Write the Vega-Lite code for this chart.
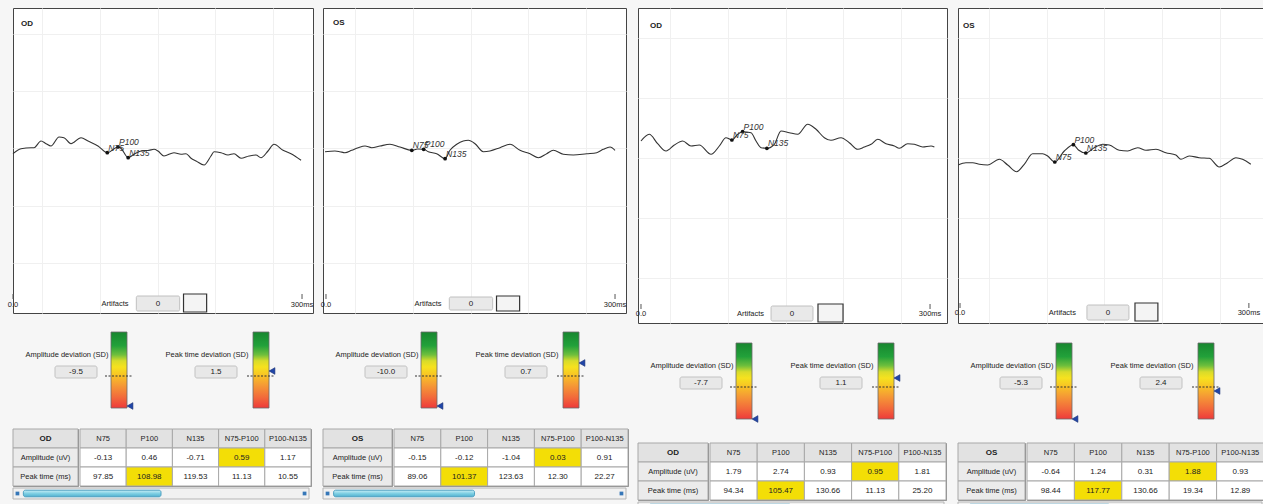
{
"$schema":"https://vega.github.io/schema/vega-lite/v6.json",
"background":"#f6f6f6",
"padding":{"left":7,"top":7,"right":0,"bottom":0},
"autosize":{"type":"pad"},
"spacing":6,
"config":{
 "view":{"stroke":null},
 "locale":{"number":{"decimal":".","thousands":",","grouping":[3],"currency":["",""],"minus":"-"}},
 "text":{"font":"Liberation Sans","fontSize":7.5,"color":"#222"}
},
"datasets":{
 "wave":[
  {"panel":1,"t":0,"v":-0.27},{"panel":1,"t":8.3,"v":0.23},{"panel":1,"t":18.7,"v":0.33},{"panel":1,"t":21.8,"v":0.33},{"panel":1,"t":29.1,"v":1.0},{"panel":1,"t":34.3,"v":0.73},{"panel":1,"t":39.4,"v":0.5},{"panel":1,"t":47.8,"v":1.4},{"panel":1,"t":52.9,"v":1.33},{"panel":1,"t":60.2,"v":0.73},{"panel":1,"t":70.6,"v":1.33},{"panel":1,"t":77.9,"v":1.0},{"panel":1,"t":88.2,"v":0.5},{"panel":1,"t":97.85,"v":-0.17},{"panel":1,"t":108.98,"v":0.4},{"panel":1,"t":112,"v":0.27},{"panel":1,"t":119.53,"v":-0.67},{"panel":1,"t":125.6,"v":-0.33},{"panel":1,"t":132.9,"v":0},{"panel":1,"t":141.2,"v":0.07},{"panel":1,"t":146.4,"v":0.17},{"panel":1,"t":150.5,"v":0},{"panel":1,"t":156.7,"v":-0.5},{"panel":1,"t":167.1,"v":-0.17},{"panel":1,"t":174.4,"v":-0.33},{"panel":1,"t":179.6,"v":-0.27},{"panel":1,"t":184.8,"v":-0.73},{"panel":1,"t":190,"v":-1.0},{"panel":1,"t":198.3,"v":-1.4},{"panel":1,"t":205.5,"v":-0.5},{"panel":1,"t":208.7,"v":-0.07},{"panel":1,"t":215.9,"v":-0.17},{"panel":1,"t":223.2,"v":-0.4},{"panel":1,"t":229.4,"v":-0.27},{"panel":1,"t":236.7,"v":-0.73},{"panel":1,"t":245,"v":-0.5},{"panel":1,"t":252.2,"v":-0.4},{"panel":1,"t":257.4,"v":-0.67},{"panel":1,"t":264.7,"v":0},{"panel":1,"t":270.9,"v":0.67},{"panel":1,"t":280.3,"v":0.07},{"panel":1,"t":288.6,"v":-0.27},{"panel":1,"t":299,"v":-0.93},
  {"panel":2,"t":-1,"v":-0.07},{"panel":2,"t":9.3,"v":0},{"panel":2,"t":14.5,"v":-0.07},{"panel":2,"t":19.7,"v":-0.17},{"panel":2,"t":26.7,"v":0.07},{"panel":2,"t":33.5,"v":0.33},{"panel":2,"t":40.5,"v":0.5},{"panel":2,"t":47.4,"v":0.33},{"panel":2,"t":56.1,"v":0.5},{"panel":2,"t":66.4,"v":0.67},{"panel":2,"t":76.8,"v":0.4},{"panel":2,"t":89.06,"v":0.07},{"panel":2,"t":95,"v":0.2},{"panel":2,"t":101.37,"v":0.17},{"panel":2,"t":106.2,"v":-0.07},{"panel":2,"t":114.9,"v":-0.27},{"panel":2,"t":123.63,"v":-0.77},{"panel":2,"t":128.7,"v":0.07},{"panel":2,"t":135.7,"v":0.67},{"panel":2,"t":142.5,"v":1.0},{"panel":2,"t":147.7,"v":1.07},{"panel":2,"t":154.7,"v":0.73},{"panel":2,"t":163.3,"v":-0.07},{"panel":2,"t":170.2,"v":0},{"panel":2,"t":180.6,"v":0.33},{"panel":2,"t":191,"v":0.67},{"panel":2,"t":201.4,"v":0.07},{"panel":2,"t":211.8,"v":-0.27},{"panel":2,"t":220.4,"v":-0.67},{"panel":2,"t":229.1,"v":-0.27},{"panel":2,"t":236,"v":0.07},{"panel":2,"t":246.3,"v":-0.33},{"panel":2,"t":256.7,"v":-0.4},{"panel":2,"t":270.6,"v":-0.27},{"panel":2,"t":281,"v":-0.17},{"panel":2,"t":287.8,"v":0.17},{"panel":2,"t":294.8,"v":0.4},{"panel":2,"t":300,"v":0.07},
  {"panel":3,"t":0,"v":1.5},{"panel":3,"t":8.6,"v":2.17},{"panel":3,"t":17.3,"v":1.23},{"panel":3,"t":26,"v":0.5},{"panel":3,"t":34.6,"v":1.1},{"panel":3,"t":43.3,"v":1.5},{"panel":3,"t":51.9,"v":1.0},{"panel":3,"t":60.5,"v":1.1},{"panel":3,"t":72.7,"v":0.17},{"panel":3,"t":81.3,"v":1.0},{"panel":3,"t":88.2,"v":1.83},{"panel":3,"t":94.34,"v":1.6},{"panel":3,"t":100.4,"v":2.17},{"panel":3,"t":105.47,"v":2.43},{"panel":3,"t":114.2,"v":2.33},{"panel":3,"t":119.4,"v":1.5},{"panel":3,"t":124.6,"v":0.83},{"panel":3,"t":130.66,"v":0.77},{"panel":3,"t":138.4,"v":1.17},{"panel":3,"t":145.3,"v":2.5},{"panel":3,"t":153.9,"v":2.33},{"panel":3,"t":162.7,"v":2.17},{"panel":3,"t":173,"v":3.17},{"panel":3,"t":181.7,"v":2.67},{"panel":3,"t":190.3,"v":1.83},{"panel":3,"t":197.2,"v":1.57},{"panel":3,"t":207.6,"v":1.83},{"panel":3,"t":216.2,"v":1.33},{"panel":3,"t":225,"v":0.67},{"panel":3,"t":231.8,"v":0.9},{"panel":3,"t":238.8,"v":1.17},{"panel":3,"t":245.7,"v":1.67},{"panel":3,"t":254.3,"v":1.23},{"panel":3,"t":263,"v":1.0},{"panel":3,"t":268.1,"v":0.77},{"panel":3,"t":276.8,"v":1.23},{"panel":3,"t":283.7,"v":1.17},{"panel":3,"t":292.4,"v":0.9},{"panel":3,"t":301,"v":1.0},{"panel":3,"t":304.5,"v":0.9},
  {"panel":4,"t":-2,"v":-0.9},{"panel":4,"t":6.2,"v":-0.67},{"panel":4,"t":13.2,"v":-0.67},{"panel":4,"t":20.1,"v":-0.83},{"panel":4,"t":28.7,"v":-0.9},{"panel":4,"t":40.8,"v":-0.33},{"panel":4,"t":49.5,"v":-0.9},{"panel":4,"t":58.8,"v":-1.57},{"panel":4,"t":66.7,"v":-0.83},{"panel":4,"t":75.4,"v":0.23},{"panel":4,"t":85.8,"v":0.23},{"panel":4,"t":91,"v":0},{"panel":4,"t":98.44,"v":-0.6},{"panel":4,"t":108.3,"v":0.5},{"panel":4,"t":117.77,"v":1.13},{"panel":4,"t":123,"v":0.6},{"panel":4,"t":130.66,"v":0.3},{"panel":4,"t":139.4,"v":0.83},{"panel":4,"t":148.1,"v":1.17},{"panel":4,"t":155,"v":1.1},{"panel":4,"t":165.4,"v":0.57},{"panel":4,"t":174.1,"v":0.5},{"panel":4,"t":184.5,"v":0.83},{"panel":4,"t":193.1,"v":0.57},{"panel":4,"t":203.5,"v":0.67},{"panel":4,"t":213.8,"v":0.33},{"panel":4,"t":224.2,"v":0.1},{"panel":4,"t":229.4,"v":-0.33},{"panel":4,"t":238,"v":0},{"panel":4,"t":248.4,"v":-0.17},{"panel":4,"t":258.8,"v":-0.23},{"panel":4,"t":269.2,"v":-1.1},{"panel":4,"t":277.9,"v":-0.67},{"panel":4,"t":286.5,"v":-0.17},{"panel":4,"t":293.4,"v":-0.33},{"panel":4,"t":302,"v":-0.83}
 ],
 "peaks":[
  {"panel":1,"peak":"N75","t":97.85,"v":-0.17},{"panel":1,"peak":"P100","t":108.98,"v":0.4},{"panel":1,"peak":"N135","t":119.53,"v":-0.67},
  {"panel":2,"peak":"N75","t":89.06,"v":0.07},{"panel":2,"peak":"P100","t":101.37,"v":0.17},{"panel":2,"peak":"N135","t":123.63,"v":-0.77},
  {"panel":3,"peak":"N75","t":94.34,"v":1.6},{"panel":3,"peak":"P100","t":105.47,"v":2.43},{"panel":3,"peak":"N135","t":130.66,"v":0.77},
  {"panel":4,"peak":"N75","t":98.44,"v":-0.6},{"panel":4,"peak":"P100","t":117.77,"v":1.13},{"panel":4,"peak":"N135","t":130.66,"v":0.3}
 ],
 "gauge":[
  {"panel":1,"kind":"amp","label":"Amplitude deviation (SD)","value":-9.5},{"panel":1,"kind":"peak","label":"Peak time deviation (SD)","value":1.5},
  {"panel":2,"kind":"amp","label":"Amplitude deviation (SD)","value":-10.0},{"panel":2,"kind":"peak","label":"Peak time deviation (SD)","value":0.7},
  {"panel":3,"kind":"amp","label":"Amplitude deviation (SD)","value":-7.7},{"panel":3,"kind":"peak","label":"Peak time deviation (SD)","value":1.1},
  {"panel":4,"kind":"amp","label":"Amplitude deviation (SD)","value":-5.3},{"panel":4,"kind":"peak","label":"Peak time deviation (SD)","value":2.4}
 ],
 "hdr":[{"row":"hdr","col":"N75"},{"row":"hdr","col":"P100"},{"row":"hdr","col":"N135"},{"row":"hdr","col":"N75-P100"},{"row":"hdr","col":"P100-N135"}],
 "table":[
  {"panel":1,"row":"Amplitude (uV)","col":"N75","value":-0.13,"flag":false},{"panel":1,"row":"Amplitude (uV)","col":"P100","value":0.46,"flag":false},{"panel":1,"row":"Amplitude (uV)","col":"N135","value":-0.71,"flag":false},{"panel":1,"row":"Amplitude (uV)","col":"N75-P100","value":0.59,"flag":true},{"panel":1,"row":"Amplitude (uV)","col":"P100-N135","value":1.17,"flag":false},
  {"panel":1,"row":"Peak time (ms)","col":"N75","value":97.85,"flag":false},{"panel":1,"row":"Peak time (ms)","col":"P100","value":108.98,"flag":true},{"panel":1,"row":"Peak time (ms)","col":"N135","value":119.53,"flag":false},{"panel":1,"row":"Peak time (ms)","col":"N75-P100","value":11.13,"flag":false},{"panel":1,"row":"Peak time (ms)","col":"P100-N135","value":10.55,"flag":false},
  {"panel":2,"row":"Amplitude (uV)","col":"N75","value":-0.15,"flag":false},{"panel":2,"row":"Amplitude (uV)","col":"P100","value":-0.12,"flag":false},{"panel":2,"row":"Amplitude (uV)","col":"N135","value":-1.04,"flag":false},{"panel":2,"row":"Amplitude (uV)","col":"N75-P100","value":0.03,"flag":true},{"panel":2,"row":"Amplitude (uV)","col":"P100-N135","value":0.91,"flag":false},
  {"panel":2,"row":"Peak time (ms)","col":"N75","value":89.06,"flag":false},{"panel":2,"row":"Peak time (ms)","col":"P100","value":101.37,"flag":true},{"panel":2,"row":"Peak time (ms)","col":"N135","value":123.63,"flag":false},{"panel":2,"row":"Peak time (ms)","col":"N75-P100","value":12.30,"flag":false},{"panel":2,"row":"Peak time (ms)","col":"P100-N135","value":22.27,"flag":false},
  {"panel":3,"row":"Amplitude (uV)","col":"N75","value":1.79,"flag":false},{"panel":3,"row":"Amplitude (uV)","col":"P100","value":2.74,"flag":false},{"panel":3,"row":"Amplitude (uV)","col":"N135","value":0.93,"flag":false},{"panel":3,"row":"Amplitude (uV)","col":"N75-P100","value":0.95,"flag":true},{"panel":3,"row":"Amplitude (uV)","col":"P100-N135","value":1.81,"flag":false},
  {"panel":3,"row":"Peak time (ms)","col":"N75","value":94.34,"flag":false},{"panel":3,"row":"Peak time (ms)","col":"P100","value":105.47,"flag":true},{"panel":3,"row":"Peak time (ms)","col":"N135","value":130.66,"flag":false},{"panel":3,"row":"Peak time (ms)","col":"N75-P100","value":11.13,"flag":false},{"panel":3,"row":"Peak time (ms)","col":"P100-N135","value":25.20,"flag":false},
  {"panel":4,"row":"Amplitude (uV)","col":"N75","value":-0.64,"flag":false},{"panel":4,"row":"Amplitude (uV)","col":"P100","value":1.24,"flag":false},{"panel":4,"row":"Amplitude (uV)","col":"N135","value":0.31,"flag":false},{"panel":4,"row":"Amplitude (uV)","col":"N75-P100","value":1.88,"flag":true},{"panel":4,"row":"Amplitude (uV)","col":"P100-N135","value":0.93,"flag":false},
  {"panel":4,"row":"Peak time (ms)","col":"N75","value":98.44,"flag":false},{"panel":4,"row":"Peak time (ms)","col":"P100","value":117.77,"flag":true},{"panel":4,"row":"Peak time (ms)","col":"N135","value":130.66,"flag":false},{"panel":4,"row":"Peak time (ms)","col":"N75-P100","value":19.34,"flag":false},{"panel":4,"row":"Peak time (ms)","col":"P100-N135","value":12.89,"flag":false}
 ]
},
"hconcat":[
 {"spacing":17,"vconcat":[
  {"width":300,"height":305,"view":{"stroke":"#444","fill":"white"},"layer":[
   {"data":{"name":"wave"},"transform":[{"filter":"datum.panel == 1"}],"mark":{"type":"line","color":"#333","strokeWidth":1.1,"interpolate":"monotone"},
    "encoding":{"x":{"field":"t","type":"quantitative","scale":{"domain":[0,311.4],"nice":false,"zero":false},"axis":{"values":[30,60,90,120,150,180,210,240,270,300],"grid":true,"gridColor":"#f0f0f0","labels":false,"ticks":false,"domain":false,"title":null}},
     "y":{"field":"v","type":"quantitative","scale":{"domain":[-16.2,14.3],"nice":false,"zero":false},"axis":{"values":[11.7,8.8,6,3.2,0.3,-2.6,-5.5,-8.3,-11.2],"grid":true,"gridColor":"#f0f0f0","labels":false,"ticks":false,"domain":false,"title":null}}}},
   {"data":{"name":"peaks"},"transform":[{"filter":"datum.panel == 1"}],"mark":{"type":"point","filled":true,"color":"#111","size":14,"opacity":1},"encoding":{"x":{"field":"t","type":"quantitative"},"y":{"field":"v","type":"quantitative"}}},
   {"data":{"name":"peaks"},"transform":[{"filter":"datum.panel == 1"}],"mark":{"type":"text","align":"left","baseline":"alphabetic","dx":1,"dy":-2,"fontStyle":"italic","fontSize":8.5,"color":"#333"},"encoding":{"x":{"field":"t","type":"quantitative"},"y":{"field":"v","type":"quantitative"},"text":{"field":"peak"}}},
   {"data":{"values":[{"eye":"OD"}]},"mark":{"type":"text","align":"left","fontWeight":"bold","fontSize":8},"encoding":{"x":{"datum":8.3},"y":{"datum":12.7},"text":{"field":"eye"}}},
   {"data":{"values":[{"lab":"0.0","t":0},{"lab":"300ms","t":300}]},"layer":[
    {"mark":{"type":"text"},"encoding":{"x":{"field":"t","type":"quantitative"},"y":{"datum":-15.4},"text":{"field":"lab"}}},
    {"mark":{"type":"rule","color":"#555"},"encoding":{"x":{"field":"t","type":"quantitative"},"y":{"datum":-14.3},"y2":{"datum":-14.8}}}
   ]},
   {"data":{"values":[{"lab":"Artifacts","count":0}]},"layer":[
    {"mark":{"type":"text","align":"right"},"encoding":{"x":{"datum":120},"y":{"datum":-15.3},"text":{"field":"lab"}}},
    {"mark":{"type":"rect","fill":"#e9e9e9","stroke":"#c0c0c0","cornerRadius":1.5},"encoding":{"x":{"datum":128},"x2":{"datum":173},"y":{"datum":-14.5},"y2":{"datum":-16.0}}},
    {"mark":{"type":"text","fontSize":8},"encoding":{"x":{"datum":150.5},"y":{"datum":-15.3},"text":{"field":"count"}}},
    {"mark":{"type":"rect","fill":"#f4f4f4","stroke":"#333","strokeWidth":1.2},"encoding":{"x":{"datum":177},"x2":{"datum":201},"y":{"datum":-14.3},"y2":{"datum":-16.1}}}
   ]}
  ]},
  {"width":280,"height":76,"data":{"name":"gauge"},"transform":[{"filter":"datum.panel == 1"}],"resolve":{"scale":{"y":"independent"}},"layer":[
   {"layer":[
    {"transform":[{"filter":"datum.kind == 'amp'"}],"mark":{"type":"rect","stroke":"#6b6b6b","strokeWidth":0.8,"fill":{"gradient":"linear","x1":0,"y1":0,"x2":0,"y2":1,"stops":[{"offset":0,"color":"#17862f"},{"offset":0.18,"color":"#22a13a"},{"offset":0.3,"color":"#6fbf3c"},{"offset":0.38,"color":"#d8dc2a"},{"offset":0.46,"color":"#f6e21f"},{"offset":0.56,"color":"#f8c624"},{"offset":0.7,"color":"#f59a35"},{"offset":0.86,"color":"#f26a3b"},{"offset":1,"color":"#ee3a3a"}]}},
     "encoding":{"x":{"datum":98,"type":"quantitative","scale":{"domain":[0,280],"nice":false,"zero":false},"axis":null},"x2":{"datum":114},"y":{"datum":2.4,"type":"quantitative","scale":{"domain":[-5.2,2.4],"nice":false,"zero":false,"clamp":true},"axis":null},"y2":{"datum":-5.2}}},
    {"transform":[{"filter":"datum.kind == 'peak'"}],"mark":{"type":"rect","stroke":"#6b6b6b","strokeWidth":0.8,"fill":{"gradient":"linear","x1":0,"y1":0,"x2":0,"y2":1,"stops":[{"offset":0,"color":"#17862f"},{"offset":0.18,"color":"#22a13a"},{"offset":0.3,"color":"#6fbf3c"},{"offset":0.38,"color":"#d8dc2a"},{"offset":0.46,"color":"#f6e21f"},{"offset":0.56,"color":"#f8c624"},{"offset":0.7,"color":"#f59a35"},{"offset":0.86,"color":"#f26a3b"},{"offset":1,"color":"#ee3a3a"}]}},
     "encoding":{"x":{"datum":240,"type":"quantitative","axis":null},"x2":{"datum":256},"y":{"datum":2.4,"type":"quantitative","axis":null},"y2":{"datum":-5.2}}},
    {"transform":[{"filter":"datum.kind == 'amp'"}],"mark":{"type":"rule","color":"#333","strokeDash":[2,1.5]},"encoding":{"x":{"datum":92,"type":"quantitative","axis":null},"x2":{"datum":120},"y":{"datum":-2,"type":"quantitative","axis":null}}},
    {"transform":[{"filter":"datum.kind == 'peak'"}],"mark":{"type":"rule","color":"#333","strokeDash":[2,1.5]},"encoding":{"x":{"datum":234,"type":"quantitative","axis":null},"x2":{"datum":262},"y":{"datum":-2,"type":"quantitative","axis":null}}},
    {"transform":[{"filter":"datum.kind == 'amp'"}],"mark":{"type":"text"},"encoding":{"x":{"datum":54,"type":"quantitative","axis":null},"y":{"datum":0.15,"type":"quantitative","axis":null},"text":{"field":"label"}}},
    {"transform":[{"filter":"datum.kind == 'peak'"}],"mark":{"type":"text"},"encoding":{"x":{"datum":194,"type":"quantitative","axis":null},"y":{"datum":0.15,"type":"quantitative","axis":null},"text":{"field":"label"}}},
    {"transform":[{"filter":"datum.kind == 'amp'"}],"mark":{"type":"rect","fill":"#e8e8e8","stroke":"#c2c2c2","cornerRadius":2},"encoding":{"x":{"datum":42,"type":"quantitative","axis":null},"x2":{"datum":84},"y":{"datum":-1.0,"type":"quantitative","axis":null},"y2":{"datum":-2.2}}},
    {"transform":[{"filter":"datum.kind == 'peak'"}],"mark":{"type":"rect","fill":"#e8e8e8","stroke":"#c2c2c2","cornerRadius":2},"encoding":{"x":{"datum":182,"type":"quantitative","axis":null},"x2":{"datum":224},"y":{"datum":-1.0,"type":"quantitative","axis":null},"y2":{"datum":-2.2}}},
    {"transform":[{"filter":"datum.kind == 'amp'"}],"mark":{"type":"text","fontSize":8},"encoding":{"x":{"datum":63,"type":"quantitative","axis":null},"y":{"datum":-1.6,"type":"quantitative","axis":null},"text":{"field":"value","type":"quantitative","format":".1f"}}},
    {"transform":[{"filter":"datum.kind == 'peak'"}],"mark":{"type":"text","fontSize":8},"encoding":{"x":{"datum":203,"type":"quantitative","axis":null},"y":{"datum":-1.6,"type":"quantitative","axis":null},"text":{"field":"value","type":"quantitative","format":".1f"}}}
   ]},
   {"transform":[{"filter":"datum.kind == 'peak'"}],"mark":{"type":"point","shape":"triangle-left","filled":true,"color":"#1f45a8","size":45,"opacity":1,"stroke":"#10286e","strokeWidth":0.6},"encoding":{"x":{"datum":259,"type":"quantitative","axis":null},"y":{"field":"value","type":"quantitative","scale":{"domain":[-2.4,5.2],"reverse":true,"nice":false,"zero":false,"clamp":true},"axis":null}}},
   {"transform":[{"filter":"datum.kind == 'amp'"}],"mark":{"type":"point","shape":"triangle-left","filled":true,"color":"#1f45a8","size":45,"opacity":1,"stroke":"#10286e","strokeWidth":0.6},"encoding":{"x":{"datum":117,"type":"quantitative","axis":null},"y":{"field":"value","type":"quantitative","scale":{"domain":[-5.0,2.4],"range":[74,0],"nice":false,"zero":false,"clamp":true},"axis":null}}}
  ]},
  {"spacing":0,"vconcat":[
   {"spacing":0,"hconcat":[
    {"width":65,"height":57,"view":{"stroke":"#888"},"data":{"values":[{"row":"hdr","label":"OD"},{"row":"Amplitude (uV)","label":"Amplitude (uV)"},{"row":"Peak time (ms)","label":"Peak time (ms)"}]},"layer":[
     {"mark":{"type":"rect","stroke":"#a8a8a8"},"encoding":{"y":{"field":"row","type":"nominal","scale":{"domain":["hdr","Amplitude (uV)","Peak time (ms)"]},"axis":null},"fill":{"condition":{"test":"datum.row == 'hdr'","value":"#e2e2e2"},"value":"#ebebeb"}}},
     {"transform":[{"filter":"datum.row == 'hdr'"}],"mark":{"type":"text","fontWeight":"bold","fontSize":8},"encoding":{"y":{"field":"row","type":"nominal","axis":null},"text":{"field":"label"}}},
     {"transform":[{"filter":"datum.row != 'hdr'"}],"mark":{"type":"text"},"encoding":{"y":{"field":"row","type":"nominal","axis":null},"text":{"field":"label"}}}
    ]},
    {"width":231,"height":57,"view":{"stroke":"#888"},"layer":[
     {"data":{"name":"hdr"},"mark":{"type":"rect","fill":"#e2e2e2","stroke":"#a8a8a8"},"encoding":{"x":{"field":"col","type":"nominal","scale":{"domain":["N75","P100","N135","N75-P100","P100-N135"]},"axis":null},"y":{"field":"row","type":"nominal","scale":{"domain":["hdr","Amplitude (uV)","Peak time (ms)"]},"axis":null}}},
     {"data":{"name":"hdr"},"mark":{"type":"text"},"encoding":{"x":{"field":"col","type":"nominal","axis":null},"y":{"field":"row","type":"nominal","axis":null},"text":{"field":"col"}}},
     {"data":{"name":"table"},"transform":[{"filter":"datum.panel == 1"}],"mark":{"type":"rect","stroke":"#a8a8a8"},"encoding":{"x":{"field":"col","type":"nominal","axis":null},"y":{"field":"row","type":"nominal","axis":null},"fill":{"condition":{"test":"datum.flag","value":"#f3de06"},"value":"#ffffff"}}},
     {"data":{"name":"table"},"transform":[{"filter":"datum.panel == 1"}],"mark":{"type":"text","fontSize":8},"encoding":{"x":{"field":"col","type":"nominal","axis":null},"y":{"field":"row","type":"nominal","axis":null},"text":{"field":"value","type":"quantitative","format":".2f"}}}
    ]}
   ]},
   {"width":296,"height":11,"data":{"values":[{}]},"layer":[
    {"mark":{"type":"rect","fill":"#f1f1f1","stroke":"#b5b5b5"},"encoding":{"x":{"datum":0,"type":"quantitative","scale":{"domain":[0,1],"nice":false,"zero":false},"axis":null},"x2":{"datum":1},"y":{"datum":0,"type":"quantitative","scale":{"domain":[0,1],"nice":false,"zero":false},"axis":null},"y2":{"datum":1}}},
    {"mark":{"type":"rect","stroke":"#4a9fc0","cornerRadius":2,"fill":{"gradient":"linear","x1":0,"y1":0,"x2":0,"y2":1,"stops":[{"offset":0,"color":"#c8eef7"},{"offset":0.5,"color":"#7fcfe3"},{"offset":1,"color":"#4fb0cf"}]}},"encoding":{"x":{"datum":0.035,"type":"quantitative","axis":null},"x2":{"datum":0.5},"y":{"datum":0.2,"type":"quantitative","axis":null},"y2":{"datum":0.8}}},
    {"mark":{"type":"point","shape":"square","filled":true,"color":"#3677b8","size":14,"opacity":1},"encoding":{"x":{"datum":0.015,"type":"quantitative","axis":null},"y":{"datum":0.5,"type":"quantitative","axis":null}}},
    {"mark":{"type":"point","shape":"square","filled":true,"color":"#3677b8","size":14,"opacity":1},"encoding":{"x":{"datum":0.985,"type":"quantitative","axis":null},"y":{"datum":0.5,"type":"quantitative","axis":null}}}
   ]}
  ]}
 ]},
 {"spacing":17,"vconcat":[
  {"width":303,"height":305,"view":{"stroke":"#444","fill":"white"},"layer":[
   {"data":{"name":"wave"},"transform":[{"filter":"datum.panel == 2"}],"mark":{"type":"line","color":"#333","strokeWidth":1.1,"interpolate":"monotone"},
    "encoding":{"x":{"field":"t","type":"quantitative","scale":{"domain":[-3.1,311.4],"nice":false,"zero":false},"axis":{"values":[30,60,90,120,150,180,210,240,270,300],"grid":true,"gridColor":"#f0f0f0","labels":false,"ticks":false,"domain":false,"title":null}},
     "y":{"field":"v","type":"quantitative","scale":{"domain":[-16.2,14.3],"nice":false,"zero":false},"axis":{"values":[11.7,8.8,6,3.2,0.3,-2.6,-5.5,-8.3,-11.2],"grid":true,"gridColor":"#f0f0f0","labels":false,"ticks":false,"domain":false,"title":null}}}},
   {"data":{"name":"peaks"},"transform":[{"filter":"datum.panel == 2"}],"mark":{"type":"point","filled":true,"color":"#111","size":14,"opacity":1},"encoding":{"x":{"field":"t","type":"quantitative"},"y":{"field":"v","type":"quantitative"}}},
   {"data":{"name":"peaks"},"transform":[{"filter":"datum.panel == 2"}],"mark":{"type":"text","align":"left","baseline":"alphabetic","dx":1,"dy":-2,"fontStyle":"italic","fontSize":8.5,"color":"#333"},"encoding":{"x":{"field":"t","type":"quantitative"},"y":{"field":"v","type":"quantitative"},"text":{"field":"peak"}}},
   {"data":{"values":[{"eye":"OS"}]},"mark":{"type":"text","align":"left","fontWeight":"bold","fontSize":8},"encoding":{"x":{"datum":7.3},"y":{"datum":12.8},"text":{"field":"eye"}}},
   {"data":{"values":[{"lab":"0.0","t":0},{"lab":"300ms","t":300}]},"layer":[
    {"mark":{"type":"text"},"encoding":{"x":{"field":"t","type":"quantitative"},"y":{"datum":-15.4},"text":{"field":"lab"}}},
    {"mark":{"type":"rule","color":"#555"},"encoding":{"x":{"field":"t","type":"quantitative"},"y":{"datum":-14.3},"y2":{"datum":-14.8}}}
   ]},
   {"data":{"values":[{"lab":"Artifacts","count":0}]},"layer":[
    {"mark":{"type":"text","align":"right"},"encoding":{"x":{"datum":120},"y":{"datum":-15.3},"text":{"field":"lab"}}},
    {"mark":{"type":"rect","fill":"#e9e9e9","stroke":"#c0c0c0","cornerRadius":1.5},"encoding":{"x":{"datum":128},"x2":{"datum":173},"y":{"datum":-14.6},"y2":{"datum":-15.9}}},
    {"mark":{"type":"text","fontSize":8},"encoding":{"x":{"datum":150.5},"y":{"datum":-15.3},"text":{"field":"count"}}},
    {"mark":{"type":"rect","fill":"#f4f4f4","stroke":"#333","strokeWidth":1.2},"encoding":{"x":{"datum":177},"x2":{"datum":201},"y":{"datum":-14.5},"y2":{"datum":-16.0}}}
   ]}
  ]},
  {"width":280,"height":76,"data":{"name":"gauge"},"transform":[{"filter":"datum.panel == 2"}],"resolve":{"scale":{"y":"independent"}},"layer":[
   {"layer":[
    {"transform":[{"filter":"datum.kind == 'amp'"}],"mark":{"type":"rect","stroke":"#6b6b6b","strokeWidth":0.8,"fill":{"gradient":"linear","x1":0,"y1":0,"x2":0,"y2":1,"stops":[{"offset":0,"color":"#17862f"},{"offset":0.18,"color":"#22a13a"},{"offset":0.3,"color":"#6fbf3c"},{"offset":0.38,"color":"#d8dc2a"},{"offset":0.46,"color":"#f6e21f"},{"offset":0.56,"color":"#f8c624"},{"offset":0.7,"color":"#f59a35"},{"offset":0.86,"color":"#f26a3b"},{"offset":1,"color":"#ee3a3a"}]}},
     "encoding":{"x":{"datum":98,"type":"quantitative","scale":{"domain":[0,280],"nice":false,"zero":false},"axis":null},"x2":{"datum":114},"y":{"datum":2.4,"type":"quantitative","scale":{"domain":[-5.2,2.4],"nice":false,"zero":false,"clamp":true},"axis":null},"y2":{"datum":-5.2}}},
    {"transform":[{"filter":"datum.kind == 'peak'"}],"mark":{"type":"rect","stroke":"#6b6b6b","strokeWidth":0.8,"fill":{"gradient":"linear","x1":0,"y1":0,"x2":0,"y2":1,"stops":[{"offset":0,"color":"#17862f"},{"offset":0.18,"color":"#22a13a"},{"offset":0.3,"color":"#6fbf3c"},{"offset":0.38,"color":"#d8dc2a"},{"offset":0.46,"color":"#f6e21f"},{"offset":0.56,"color":"#f8c624"},{"offset":0.7,"color":"#f59a35"},{"offset":0.86,"color":"#f26a3b"},{"offset":1,"color":"#ee3a3a"}]}},
     "encoding":{"x":{"datum":240,"type":"quantitative","axis":null},"x2":{"datum":256},"y":{"datum":2.4,"type":"quantitative","axis":null},"y2":{"datum":-5.2}}},
    {"transform":[{"filter":"datum.kind == 'amp'"}],"mark":{"type":"rule","color":"#333","strokeDash":[2,1.5]},"encoding":{"x":{"datum":92,"type":"quantitative","axis":null},"x2":{"datum":120},"y":{"datum":-2,"type":"quantitative","axis":null}}},
    {"transform":[{"filter":"datum.kind == 'peak'"}],"mark":{"type":"rule","color":"#333","strokeDash":[2,1.5]},"encoding":{"x":{"datum":234,"type":"quantitative","axis":null},"x2":{"datum":262},"y":{"datum":-2,"type":"quantitative","axis":null}}},
    {"transform":[{"filter":"datum.kind == 'amp'"}],"mark":{"type":"text"},"encoding":{"x":{"datum":54,"type":"quantitative","axis":null},"y":{"datum":0.15,"type":"quantitative","axis":null},"text":{"field":"label"}}},
    {"transform":[{"filter":"datum.kind == 'peak'"}],"mark":{"type":"text"},"encoding":{"x":{"datum":194,"type":"quantitative","axis":null},"y":{"datum":0.15,"type":"quantitative","axis":null},"text":{"field":"label"}}},
    {"transform":[{"filter":"datum.kind == 'amp'"}],"mark":{"type":"rect","fill":"#e8e8e8","stroke":"#c2c2c2","cornerRadius":2},"encoding":{"x":{"datum":42,"type":"quantitative","axis":null},"x2":{"datum":84},"y":{"datum":-1.0,"type":"quantitative","axis":null},"y2":{"datum":-2.2}}},
    {"transform":[{"filter":"datum.kind == 'peak'"}],"mark":{"type":"rect","fill":"#e8e8e8","stroke":"#c2c2c2","cornerRadius":2},"encoding":{"x":{"datum":182,"type":"quantitative","axis":null},"x2":{"datum":224},"y":{"datum":-1.0,"type":"quantitative","axis":null},"y2":{"datum":-2.2}}},
    {"transform":[{"filter":"datum.kind == 'amp'"}],"mark":{"type":"text","fontSize":8},"encoding":{"x":{"datum":63,"type":"quantitative","axis":null},"y":{"datum":-1.6,"type":"quantitative","axis":null},"text":{"field":"value","type":"quantitative","format":".1f"}}},
    {"transform":[{"filter":"datum.kind == 'peak'"}],"mark":{"type":"text","fontSize":8},"encoding":{"x":{"datum":203,"type":"quantitative","axis":null},"y":{"datum":-1.6,"type":"quantitative","axis":null},"text":{"field":"value","type":"quantitative","format":".1f"}}}
   ]},
   {"transform":[{"filter":"datum.kind == 'peak'"}],"mark":{"type":"point","shape":"triangle-left","filled":true,"color":"#1f45a8","size":45,"opacity":1,"stroke":"#10286e","strokeWidth":0.6},"encoding":{"x":{"datum":259,"type":"quantitative","axis":null},"y":{"field":"value","type":"quantitative","scale":{"domain":[-2.4,5.2],"reverse":true,"nice":false,"zero":false,"clamp":true},"axis":null}}},
   {"transform":[{"filter":"datum.kind == 'amp'"}],"mark":{"type":"point","shape":"triangle-left","filled":true,"color":"#1f45a8","size":45,"opacity":1,"stroke":"#10286e","strokeWidth":0.6},"encoding":{"x":{"datum":117,"type":"quantitative","axis":null},"y":{"field":"value","type":"quantitative","scale":{"domain":[-5.0,2.4],"range":[74,0],"nice":false,"zero":false,"clamp":true},"axis":null}}}
  ]},
  {"spacing":0,"vconcat":[
   {"spacing":0,"hconcat":[
    {"width":69,"height":57,"view":{"stroke":"#888"},"data":{"values":[{"row":"hdr","label":"OS"},{"row":"Amplitude (uV)","label":"Amplitude (uV)"},{"row":"Peak time (ms)","label":"Peak time (ms)"}]},"layer":[
     {"mark":{"type":"rect","stroke":"#a8a8a8"},"encoding":{"y":{"field":"row","type":"nominal","scale":{"domain":["hdr","Amplitude (uV)","Peak time (ms)"]},"axis":null},"fill":{"condition":{"test":"datum.row == 'hdr'","value":"#e2e2e2"},"value":"#ebebeb"}}},
     {"transform":[{"filter":"datum.row == 'hdr'"}],"mark":{"type":"text","fontWeight":"bold","fontSize":8},"encoding":{"y":{"field":"row","type":"nominal","axis":null},"text":{"field":"label"}}},
     {"transform":[{"filter":"datum.row != 'hdr'"}],"mark":{"type":"text"},"encoding":{"y":{"field":"row","type":"nominal","axis":null},"text":{"field":"label"}}}
    ]},
    {"width":234,"height":57,"view":{"stroke":"#888"},"layer":[
     {"data":{"name":"hdr"},"mark":{"type":"rect","fill":"#e2e2e2","stroke":"#a8a8a8"},"encoding":{"x":{"field":"col","type":"nominal","scale":{"domain":["N75","P100","N135","N75-P100","P100-N135"]},"axis":null},"y":{"field":"row","type":"nominal","scale":{"domain":["hdr","Amplitude (uV)","Peak time (ms)"]},"axis":null}}},
     {"data":{"name":"hdr"},"mark":{"type":"text"},"encoding":{"x":{"field":"col","type":"nominal","axis":null},"y":{"field":"row","type":"nominal","axis":null},"text":{"field":"col"}}},
     {"data":{"name":"table"},"transform":[{"filter":"datum.panel == 2"}],"mark":{"type":"rect","stroke":"#a8a8a8"},"encoding":{"x":{"field":"col","type":"nominal","axis":null},"y":{"field":"row","type":"nominal","axis":null},"fill":{"condition":{"test":"datum.flag","value":"#f3de06"},"value":"#ffffff"}}},
     {"data":{"name":"table"},"transform":[{"filter":"datum.panel == 2"}],"mark":{"type":"text","fontSize":8},"encoding":{"x":{"field":"col","type":"nominal","axis":null},"y":{"field":"row","type":"nominal","axis":null},"text":{"field":"value","type":"quantitative","format":".2f"}}}
    ]}
   ]},
   {"width":303,"height":11,"data":{"values":[{}]},"layer":[
    {"mark":{"type":"rect","fill":"#f1f1f1","stroke":"#b5b5b5"},"encoding":{"x":{"datum":0,"type":"quantitative","scale":{"domain":[0,1],"nice":false,"zero":false},"axis":null},"x2":{"datum":1},"y":{"datum":0,"type":"quantitative","scale":{"domain":[0,1],"nice":false,"zero":false},"axis":null},"y2":{"datum":1}}},
    {"mark":{"type":"rect","stroke":"#4a9fc0","cornerRadius":2,"fill":{"gradient":"linear","x1":0,"y1":0,"x2":0,"y2":1,"stops":[{"offset":0,"color":"#c8eef7"},{"offset":0.5,"color":"#7fcfe3"},{"offset":1,"color":"#4fb0cf"}]}},"encoding":{"x":{"datum":0.035,"type":"quantitative","axis":null},"x2":{"datum":0.5},"y":{"datum":0.2,"type":"quantitative","axis":null},"y2":{"datum":0.8}}},
    {"mark":{"type":"point","shape":"square","filled":true,"color":"#3677b8","size":14,"opacity":1},"encoding":{"x":{"datum":0.015,"type":"quantitative","axis":null},"y":{"datum":0.5,"type":"quantitative","axis":null}}},
    {"mark":{"type":"point","shape":"square","filled":true,"color":"#3677b8","size":14,"opacity":1},"encoding":{"x":{"datum":0.985,"type":"quantitative","axis":null},"y":{"datum":0.5,"type":"quantitative","axis":null}}}
   ]}
  ]}
 ]},
 {"spacing":18,"vconcat":[
  {"width":309,"height":315,"view":{"stroke":"#444","fill":"white"},"layer":[
   {"data":{"name":"wave"},"transform":[{"filter":"datum.panel == 3"}],"mark":{"type":"line","color":"#333","strokeWidth":1.1,"interpolate":"monotone"},
    "encoding":{"x":{"field":"t","type":"quantitative","scale":{"domain":[-3.1,317.6],"nice":false,"zero":false},"axis":{"values":[30,60,90,120,150,180,210,240,270,300],"grid":true,"gridColor":"#f0f0f0","labels":false,"ticks":false,"domain":false,"title":null}},
     "y":{"field":"v","type":"quantitative","scale":{"domain":[-16.7,14.8],"nice":false,"zero":false},"axis":{"values":[11.8,8.8,5.8,2.8,-0.2,-3.2,-6.2,-9.2,-12.2],"grid":true,"gridColor":"#f0f0f0","labels":false,"ticks":false,"domain":false,"title":null}}}},
   {"data":{"name":"peaks"},"transform":[{"filter":"datum.panel == 3"}],"mark":{"type":"point","filled":true,"color":"#111","size":14,"opacity":1},"encoding":{"x":{"field":"t","type":"quantitative"},"y":{"field":"v","type":"quantitative"}}},
   {"data":{"name":"peaks"},"transform":[{"filter":"datum.panel == 3"}],"mark":{"type":"text","align":"left","baseline":"alphabetic","dx":1,"dy":-2,"fontStyle":"italic","fontSize":8.5,"color":"#333"},"encoding":{"x":{"field":"t","type":"quantitative"},"y":{"field":"v","type":"quantitative"},"text":{"field":"peak"}}},
   {"data":{"values":[{"eye":"OD"}]},"mark":{"type":"text","align":"left","fontWeight":"bold","fontSize":8},"encoding":{"x":{"datum":9.3},"y":{"datum":13.05},"text":{"field":"eye"}}},
   {"data":{"values":[{"lab":"0.0","t":0},{"lab":"300ms","t":300}]},"layer":[
    {"mark":{"type":"text"},"encoding":{"x":{"field":"t","type":"quantitative"},"y":{"datum":-15.8},"text":{"field":"lab"}}},
    {"mark":{"type":"rule","color":"#555"},"encoding":{"x":{"field":"t","type":"quantitative"},"y":{"datum":-14.8},"y2":{"datum":-15.3}}}
   ]},
   {"data":{"values":[{"lab":"Artifacts","count":0}]},"layer":[
    {"mark":{"type":"text","align":"right"},"encoding":{"x":{"datum":127.7},"y":{"datum":-15.8},"text":{"field":"lab"}}},
    {"mark":{"type":"rect","fill":"#e9e9e9","stroke":"#c0c0c0","cornerRadius":1.5},"encoding":{"x":{"datum":135},"x2":{"datum":178.5},"y":{"datum":-15.0},"y2":{"datum":-16.5}}},
    {"mark":{"type":"text","fontSize":8},"encoding":{"x":{"datum":156.8},"y":{"datum":-15.8},"text":{"field":"count"}}},
    {"mark":{"type":"rect","fill":"#f4f4f4","stroke":"#333","strokeWidth":1.2},"encoding":{"x":{"datum":183.7},"x2":{"datum":209.7},"y":{"datum":-14.8},"y2":{"datum":-16.6}}}
   ]}
  ]},
  {"width":280,"height":76,"data":{"name":"gauge"},"transform":[{"filter":"datum.panel == 3"}],"resolve":{"scale":{"y":"independent"}},"layer":[
   {"layer":[
    {"transform":[{"filter":"datum.kind == 'amp'"}],"mark":{"type":"rect","stroke":"#6b6b6b","strokeWidth":0.8,"fill":{"gradient":"linear","x1":0,"y1":0,"x2":0,"y2":1,"stops":[{"offset":0,"color":"#17862f"},{"offset":0.18,"color":"#22a13a"},{"offset":0.3,"color":"#6fbf3c"},{"offset":0.38,"color":"#d8dc2a"},{"offset":0.46,"color":"#f6e21f"},{"offset":0.56,"color":"#f8c624"},{"offset":0.7,"color":"#f59a35"},{"offset":0.86,"color":"#f26a3b"},{"offset":1,"color":"#ee3a3a"}]}},
     "encoding":{"x":{"datum":98,"type":"quantitative","scale":{"domain":[0,280],"nice":false,"zero":false},"axis":null},"x2":{"datum":114},"y":{"datum":2.4,"type":"quantitative","scale":{"domain":[-5.2,2.4],"nice":false,"zero":false,"clamp":true},"axis":null},"y2":{"datum":-5.2}}},
    {"transform":[{"filter":"datum.kind == 'peak'"}],"mark":{"type":"rect","stroke":"#6b6b6b","strokeWidth":0.8,"fill":{"gradient":"linear","x1":0,"y1":0,"x2":0,"y2":1,"stops":[{"offset":0,"color":"#17862f"},{"offset":0.18,"color":"#22a13a"},{"offset":0.3,"color":"#6fbf3c"},{"offset":0.38,"color":"#d8dc2a"},{"offset":0.46,"color":"#f6e21f"},{"offset":0.56,"color":"#f8c624"},{"offset":0.7,"color":"#f59a35"},{"offset":0.86,"color":"#f26a3b"},{"offset":1,"color":"#ee3a3a"}]}},
     "encoding":{"x":{"datum":240,"type":"quantitative","axis":null},"x2":{"datum":256},"y":{"datum":2.4,"type":"quantitative","axis":null},"y2":{"datum":-5.2}}},
    {"transform":[{"filter":"datum.kind == 'amp'"}],"mark":{"type":"rule","color":"#333","strokeDash":[2,1.5]},"encoding":{"x":{"datum":92,"type":"quantitative","axis":null},"x2":{"datum":120},"y":{"datum":-2,"type":"quantitative","axis":null}}},
    {"transform":[{"filter":"datum.kind == 'peak'"}],"mark":{"type":"rule","color":"#333","strokeDash":[2,1.5]},"encoding":{"x":{"datum":234,"type":"quantitative","axis":null},"x2":{"datum":262},"y":{"datum":-2,"type":"quantitative","axis":null}}},
    {"transform":[{"filter":"datum.kind == 'amp'"}],"mark":{"type":"text"},"encoding":{"x":{"datum":54,"type":"quantitative","axis":null},"y":{"datum":0.15,"type":"quantitative","axis":null},"text":{"field":"label"}}},
    {"transform":[{"filter":"datum.kind == 'peak'"}],"mark":{"type":"text"},"encoding":{"x":{"datum":194,"type":"quantitative","axis":null},"y":{"datum":0.15,"type":"quantitative","axis":null},"text":{"field":"label"}}},
    {"transform":[{"filter":"datum.kind == 'amp'"}],"mark":{"type":"rect","fill":"#e8e8e8","stroke":"#c2c2c2","cornerRadius":2},"encoding":{"x":{"datum":42,"type":"quantitative","axis":null},"x2":{"datum":84},"y":{"datum":-1.0,"type":"quantitative","axis":null},"y2":{"datum":-2.2}}},
    {"transform":[{"filter":"datum.kind == 'peak'"}],"mark":{"type":"rect","fill":"#e8e8e8","stroke":"#c2c2c2","cornerRadius":2},"encoding":{"x":{"datum":182,"type":"quantitative","axis":null},"x2":{"datum":224},"y":{"datum":-1.0,"type":"quantitative","axis":null},"y2":{"datum":-2.2}}},
    {"transform":[{"filter":"datum.kind == 'amp'"}],"mark":{"type":"text","fontSize":8},"encoding":{"x":{"datum":63,"type":"quantitative","axis":null},"y":{"datum":-1.6,"type":"quantitative","axis":null},"text":{"field":"value","type":"quantitative","format":".1f"}}},
    {"transform":[{"filter":"datum.kind == 'peak'"}],"mark":{"type":"text","fontSize":8},"encoding":{"x":{"datum":203,"type":"quantitative","axis":null},"y":{"datum":-1.6,"type":"quantitative","axis":null},"text":{"field":"value","type":"quantitative","format":".1f"}}},
    {"transform":[{"filter":"datum.kind == 'amp'"}],"mark":{"type":"point","shape":"triangle-left","filled":true,"color":"#1f45a8","size":45,"opacity":1,"stroke":"#10286e","strokeWidth":0.6},"encoding":{"x":{"datum":117,"type":"quantitative","axis":null},"y":{"field":"value","type":"quantitative","axis":null}}}
   ]},
   {"transform":[{"filter":"datum.kind == 'peak'"}],"mark":{"type":"point","shape":"triangle-left","filled":true,"color":"#1f45a8","size":45,"opacity":1,"stroke":"#10286e","strokeWidth":0.6},"encoding":{"x":{"datum":259,"type":"quantitative","axis":null},"y":{"field":"value","type":"quantitative","scale":{"domain":[-2.4,5.2],"reverse":true,"nice":false,"zero":false,"clamp":true},"axis":null}}}
  ]},
  {"spacing":0,"vconcat":[
   {"spacing":0,"hconcat":[
    {"width":70,"height":57,"view":{"stroke":"#888"},"data":{"values":[{"row":"hdr","label":"OD"},{"row":"Amplitude (uV)","label":"Amplitude (uV)"},{"row":"Peak time (ms)","label":"Peak time (ms)"}]},"layer":[
     {"mark":{"type":"rect","stroke":"#a8a8a8"},"encoding":{"y":{"field":"row","type":"nominal","scale":{"domain":["hdr","Amplitude (uV)","Peak time (ms)"]},"axis":null},"fill":{"condition":{"test":"datum.row == 'hdr'","value":"#e2e2e2"},"value":"#ebebeb"}}},
     {"transform":[{"filter":"datum.row == 'hdr'"}],"mark":{"type":"text","fontWeight":"bold","fontSize":8},"encoding":{"y":{"field":"row","type":"nominal","axis":null},"text":{"field":"label"}}},
     {"transform":[{"filter":"datum.row != 'hdr'"}],"mark":{"type":"text"},"encoding":{"y":{"field":"row","type":"nominal","axis":null},"text":{"field":"label"}}}
    ]},
    {"width":236,"height":57,"view":{"stroke":"#888"},"layer":[
     {"data":{"name":"hdr"},"mark":{"type":"rect","fill":"#e2e2e2","stroke":"#a8a8a8"},"encoding":{"x":{"field":"col","type":"nominal","scale":{"domain":["N75","P100","N135","N75-P100","P100-N135"]},"axis":null},"y":{"field":"row","type":"nominal","scale":{"domain":["hdr","Amplitude (uV)","Peak time (ms)"]},"axis":null}}},
     {"data":{"name":"hdr"},"mark":{"type":"text"},"encoding":{"x":{"field":"col","type":"nominal","axis":null},"y":{"field":"row","type":"nominal","axis":null},"text":{"field":"col"}}},
     {"data":{"name":"table"},"transform":[{"filter":"datum.panel == 3"}],"mark":{"type":"rect","stroke":"#a8a8a8"},"encoding":{"x":{"field":"col","type":"nominal","axis":null},"y":{"field":"row","type":"nominal","axis":null},"fill":{"condition":{"test":"datum.flag","value":"#f3de06"},"value":"#ffffff"}}},
     {"data":{"name":"table"},"transform":[{"filter":"datum.panel == 3"}],"mark":{"type":"text","fontSize":8},"encoding":{"x":{"field":"col","type":"nominal","axis":null},"y":{"field":"row","type":"nominal","axis":null},"text":{"field":"value","type":"quantitative","format":".2f"}}}
    ]}
   ]},
   {"width":306,"height":11,"data":{"values":[{}]},"layer":[
    {"mark":{"type":"rect","fill":"#f1f1f1","stroke":"#b5b5b5"},"encoding":{"x":{"datum":0,"type":"quantitative","scale":{"domain":[0,1],"nice":false,"zero":false},"axis":null},"x2":{"datum":1},"y":{"datum":0,"type":"quantitative","scale":{"domain":[0,1],"nice":false,"zero":false},"axis":null},"y2":{"datum":1}}},
    {"mark":{"type":"rect","stroke":"#4a9fc0","cornerRadius":2,"fill":{"gradient":"linear","x1":0,"y1":0,"x2":0,"y2":1,"stops":[{"offset":0,"color":"#c8eef7"},{"offset":0.5,"color":"#7fcfe3"},{"offset":1,"color":"#4fb0cf"}]}},"encoding":{"x":{"datum":0.035,"type":"quantitative","axis":null},"x2":{"datum":0.5},"y":{"datum":0.2,"type":"quantitative","axis":null},"y2":{"datum":0.8}}},
    {"mark":{"type":"point","shape":"square","filled":true,"color":"#3677b8","size":14,"opacity":1},"encoding":{"x":{"datum":0.015,"type":"quantitative","axis":null},"y":{"datum":0.5,"type":"quantitative","axis":null}}},
    {"mark":{"type":"point","shape":"square","filled":true,"color":"#3677b8","size":14,"opacity":1},"encoding":{"x":{"datum":0.985,"type":"quantitative","axis":null},"y":{"datum":0.5,"type":"quantitative","axis":null}}}
   ]}
  ]}
 ]},
 {"spacing":18,"vconcat":[
  {"width":306,"height":315,"view":{"stroke":"#444","fill":"white"},"layer":[
   {"data":{"name":"wave"},"transform":[{"filter":"datum.panel == 4"}],"mark":{"type":"line","color":"#333","strokeWidth":1.1,"interpolate":"monotone"},
    "encoding":{"x":{"field":"t","type":"quantitative","scale":{"domain":[-2.1,315.7],"nice":false,"zero":false},"axis":{"values":[30,60,90,120,150,180,210,240,270,300],"grid":true,"gridColor":"#f0f0f0","labels":false,"ticks":false,"domain":false,"title":null}},
     "y":{"field":"v","type":"quantitative","scale":{"domain":[-16.7,14.8],"nice":false,"zero":false},"axis":{"values":[11.8,8.8,5.8,2.8,-0.2,-3.2,-6.2,-9.2,-12.2],"grid":true,"gridColor":"#f0f0f0","labels":false,"ticks":false,"domain":false,"title":null}}}},
   {"data":{"name":"peaks"},"transform":[{"filter":"datum.panel == 4"}],"mark":{"type":"point","filled":true,"color":"#111","size":14,"opacity":1},"encoding":{"x":{"field":"t","type":"quantitative"},"y":{"field":"v","type":"quantitative"}}},
   {"data":{"name":"peaks"},"transform":[{"filter":"datum.panel == 4"}],"mark":{"type":"text","align":"left","baseline":"alphabetic","dx":1,"dy":-2,"fontStyle":"italic","fontSize":8.5,"color":"#333"},"encoding":{"x":{"field":"t","type":"quantitative"},"y":{"field":"v","type":"quantitative"},"text":{"field":"peak"}}},
   {"data":{"values":[{"eye":"OS"}]},"mark":{"type":"text","align":"left","fontWeight":"bold","fontSize":8},"encoding":{"x":{"datum":3.1},"y":{"datum":13.05},"text":{"field":"eye"}}},
   {"data":{"values":[{"lab":"0.0","t":0},{"lab":"300ms","t":300}]},"layer":[
    {"mark":{"type":"text"},"encoding":{"x":{"field":"t","type":"quantitative"},"y":{"datum":-15.7},"text":{"field":"lab"}}},
    {"mark":{"type":"rule","color":"#555"},"encoding":{"x":{"field":"t","type":"quantitative"},"y":{"datum":-14.7},"y2":{"datum":-15.2}}}
   ]},
   {"data":{"values":[{"lab":"Artifacts","count":0}]},"layer":[
    {"mark":{"type":"text","align":"right"},"encoding":{"x":{"datum":120.4},"y":{"datum":-15.7},"text":{"field":"lab"}}},
    {"mark":{"type":"rect","fill":"#e9e9e9","stroke":"#c0c0c0","cornerRadius":1.5},"encoding":{"x":{"datum":131.8},"x2":{"datum":175.4},"y":{"datum":-14.9},"y2":{"datum":-16.4}}},
    {"mark":{"type":"text","fontSize":8},"encoding":{"x":{"datum":153.6},"y":{"datum":-15.7},"text":{"field":"count"}}},
    {"mark":{"type":"rect","fill":"#f4f4f4","stroke":"#333","strokeWidth":1.2},"encoding":{"x":{"datum":181.7},"x2":{"datum":205.5},"y":{"datum":-14.7},"y2":{"datum":-16.5}}}
   ]}
  ]},
  {"width":280,"height":76,"data":{"name":"gauge"},"transform":[{"filter":"datum.panel == 4"}],"resolve":{"scale":{"y":"independent"}},"layer":[
   {"layer":[
    {"transform":[{"filter":"datum.kind == 'amp'"}],"mark":{"type":"rect","stroke":"#6b6b6b","strokeWidth":0.8,"fill":{"gradient":"linear","x1":0,"y1":0,"x2":0,"y2":1,"stops":[{"offset":0,"color":"#17862f"},{"offset":0.18,"color":"#22a13a"},{"offset":0.3,"color":"#6fbf3c"},{"offset":0.38,"color":"#d8dc2a"},{"offset":0.46,"color":"#f6e21f"},{"offset":0.56,"color":"#f8c624"},{"offset":0.7,"color":"#f59a35"},{"offset":0.86,"color":"#f26a3b"},{"offset":1,"color":"#ee3a3a"}]}},
     "encoding":{"x":{"datum":98,"type":"quantitative","scale":{"domain":[0,280],"nice":false,"zero":false},"axis":null},"x2":{"datum":114},"y":{"datum":2.4,"type":"quantitative","scale":{"domain":[-5.2,2.4],"nice":false,"zero":false,"clamp":true},"axis":null},"y2":{"datum":-5.2}}},
    {"transform":[{"filter":"datum.kind == 'peak'"}],"mark":{"type":"rect","stroke":"#6b6b6b","strokeWidth":0.8,"fill":{"gradient":"linear","x1":0,"y1":0,"x2":0,"y2":1,"stops":[{"offset":0,"color":"#17862f"},{"offset":0.18,"color":"#22a13a"},{"offset":0.3,"color":"#6fbf3c"},{"offset":0.38,"color":"#d8dc2a"},{"offset":0.46,"color":"#f6e21f"},{"offset":0.56,"color":"#f8c624"},{"offset":0.7,"color":"#f59a35"},{"offset":0.86,"color":"#f26a3b"},{"offset":1,"color":"#ee3a3a"}]}},
     "encoding":{"x":{"datum":240,"type":"quantitative","axis":null},"x2":{"datum":256},"y":{"datum":2.4,"type":"quantitative","axis":null},"y2":{"datum":-5.2}}},
    {"transform":[{"filter":"datum.kind == 'amp'"}],"mark":{"type":"rule","color":"#333","strokeDash":[2,1.5]},"encoding":{"x":{"datum":92,"type":"quantitative","axis":null},"x2":{"datum":120},"y":{"datum":-2,"type":"quantitative","axis":null}}},
    {"transform":[{"filter":"datum.kind == 'peak'"}],"mark":{"type":"rule","color":"#333","strokeDash":[2,1.5]},"encoding":{"x":{"datum":234,"type":"quantitative","axis":null},"x2":{"datum":262},"y":{"datum":-2,"type":"quantitative","axis":null}}},
    {"transform":[{"filter":"datum.kind == 'amp'"}],"mark":{"type":"text"},"encoding":{"x":{"datum":54,"type":"quantitative","axis":null},"y":{"datum":0.15,"type":"quantitative","axis":null},"text":{"field":"label"}}},
    {"transform":[{"filter":"datum.kind == 'peak'"}],"mark":{"type":"text"},"encoding":{"x":{"datum":194,"type":"quantitative","axis":null},"y":{"datum":0.15,"type":"quantitative","axis":null},"text":{"field":"label"}}},
    {"transform":[{"filter":"datum.kind == 'amp'"}],"mark":{"type":"rect","fill":"#e8e8e8","stroke":"#c2c2c2","cornerRadius":2},"encoding":{"x":{"datum":42,"type":"quantitative","axis":null},"x2":{"datum":84},"y":{"datum":-1.0,"type":"quantitative","axis":null},"y2":{"datum":-2.2}}},
    {"transform":[{"filter":"datum.kind == 'peak'"}],"mark":{"type":"rect","fill":"#e8e8e8","stroke":"#c2c2c2","cornerRadius":2},"encoding":{"x":{"datum":182,"type":"quantitative","axis":null},"x2":{"datum":224},"y":{"datum":-1.0,"type":"quantitative","axis":null},"y2":{"datum":-2.2}}},
    {"transform":[{"filter":"datum.kind == 'amp'"}],"mark":{"type":"text","fontSize":8},"encoding":{"x":{"datum":63,"type":"quantitative","axis":null},"y":{"datum":-1.6,"type":"quantitative","axis":null},"text":{"field":"value","type":"quantitative","format":".1f"}}},
    {"transform":[{"filter":"datum.kind == 'peak'"}],"mark":{"type":"text","fontSize":8},"encoding":{"x":{"datum":203,"type":"quantitative","axis":null},"y":{"datum":-1.6,"type":"quantitative","axis":null},"text":{"field":"value","type":"quantitative","format":".1f"}}},
    {"transform":[{"filter":"datum.kind == 'amp'"}],"mark":{"type":"point","shape":"triangle-left","filled":true,"color":"#1f45a8","size":45,"opacity":1,"stroke":"#10286e","strokeWidth":0.6},"encoding":{"x":{"datum":117,"type":"quantitative","axis":null},"y":{"field":"value","type":"quantitative","axis":null}}}
   ]},
   {"transform":[{"filter":"datum.kind == 'peak'"}],"mark":{"type":"point","shape":"triangle-left","filled":true,"color":"#1f45a8","size":45,"opacity":1,"stroke":"#10286e","strokeWidth":0.6},"encoding":{"x":{"datum":259,"type":"quantitative","axis":null},"y":{"field":"value","type":"quantitative","scale":{"domain":[-2.4,5.2],"reverse":true,"nice":false,"zero":false,"clamp":true},"axis":null}}}
  ]},
  {"spacing":0,"vconcat":[
   {"spacing":0,"hconcat":[
    {"width":67,"height":57,"view":{"stroke":"#888"},"data":{"values":[{"row":"hdr","label":"OS"},{"row":"Amplitude (uV)","label":"Amplitude (uV)"},{"row":"Peak time (ms)","label":"Peak time (ms)"}]},"layer":[
     {"mark":{"type":"rect","stroke":"#a8a8a8"},"encoding":{"y":{"field":"row","type":"nominal","scale":{"domain":["hdr","Amplitude (uV)","Peak time (ms)"]},"axis":null},"fill":{"condition":{"test":"datum.row == 'hdr'","value":"#e2e2e2"},"value":"#ebebeb"}}},
     {"transform":[{"filter":"datum.row == 'hdr'"}],"mark":{"type":"text","fontWeight":"bold","fontSize":8},"encoding":{"y":{"field":"row","type":"nominal","axis":null},"text":{"field":"label"}}},
     {"transform":[{"filter":"datum.row != 'hdr'"}],"mark":{"type":"text"},"encoding":{"y":{"field":"row","type":"nominal","axis":null},"text":{"field":"label"}}}
    ]},
    {"width":237,"height":57,"view":{"stroke":"#888"},"layer":[
     {"data":{"name":"hdr"},"mark":{"type":"rect","fill":"#e2e2e2","stroke":"#a8a8a8"},"encoding":{"x":{"field":"col","type":"nominal","scale":{"domain":["N75","P100","N135","N75-P100","P100-N135"]},"axis":null},"y":{"field":"row","type":"nominal","scale":{"domain":["hdr","Amplitude (uV)","Peak time (ms)"]},"axis":null}}},
     {"data":{"name":"hdr"},"mark":{"type":"text"},"encoding":{"x":{"field":"col","type":"nominal","axis":null},"y":{"field":"row","type":"nominal","axis":null},"text":{"field":"col"}}},
     {"data":{"name":"table"},"transform":[{"filter":"datum.panel == 4"}],"mark":{"type":"rect","stroke":"#a8a8a8"},"encoding":{"x":{"field":"col","type":"nominal","axis":null},"y":{"field":"row","type":"nominal","axis":null},"fill":{"condition":{"test":"datum.flag","value":"#f3de06"},"value":"#ffffff"}}},
     {"data":{"name":"table"},"transform":[{"filter":"datum.panel == 4"}],"mark":{"type":"text","fontSize":8},"encoding":{"x":{"field":"col","type":"nominal","axis":null},"y":{"field":"row","type":"nominal","axis":null},"text":{"field":"value","type":"quantitative","format":".2f"}}}
    ]}
   ]},
   {"width":304,"height":11,"data":{"values":[{}]},"layer":[
    {"mark":{"type":"rect","fill":"#f1f1f1","stroke":"#b5b5b5"},"encoding":{"x":{"datum":0,"type":"quantitative","scale":{"domain":[0,1],"nice":false,"zero":false},"axis":null},"x2":{"datum":1},"y":{"datum":0,"type":"quantitative","scale":{"domain":[0,1],"nice":false,"zero":false},"axis":null},"y2":{"datum":1}}},
    {"mark":{"type":"rect","stroke":"#4a9fc0","cornerRadius":2,"fill":{"gradient":"linear","x1":0,"y1":0,"x2":0,"y2":1,"stops":[{"offset":0,"color":"#c8eef7"},{"offset":0.5,"color":"#7fcfe3"},{"offset":1,"color":"#4fb0cf"}]}},"encoding":{"x":{"datum":0.035,"type":"quantitative","axis":null},"x2":{"datum":0.5},"y":{"datum":0.2,"type":"quantitative","axis":null},"y2":{"datum":0.8}}},
    {"mark":{"type":"point","shape":"square","filled":true,"color":"#3677b8","size":14,"opacity":1},"encoding":{"x":{"datum":0.015,"type":"quantitative","axis":null},"y":{"datum":0.5,"type":"quantitative","axis":null}}},
    {"mark":{"type":"point","shape":"square","filled":true,"color":"#3677b8","size":14,"opacity":1},"encoding":{"x":{"datum":0.985,"type":"quantitative","axis":null},"y":{"datum":0.5,"type":"quantitative","axis":null}}}
   ]}
  ]}
 ]}
]
}
